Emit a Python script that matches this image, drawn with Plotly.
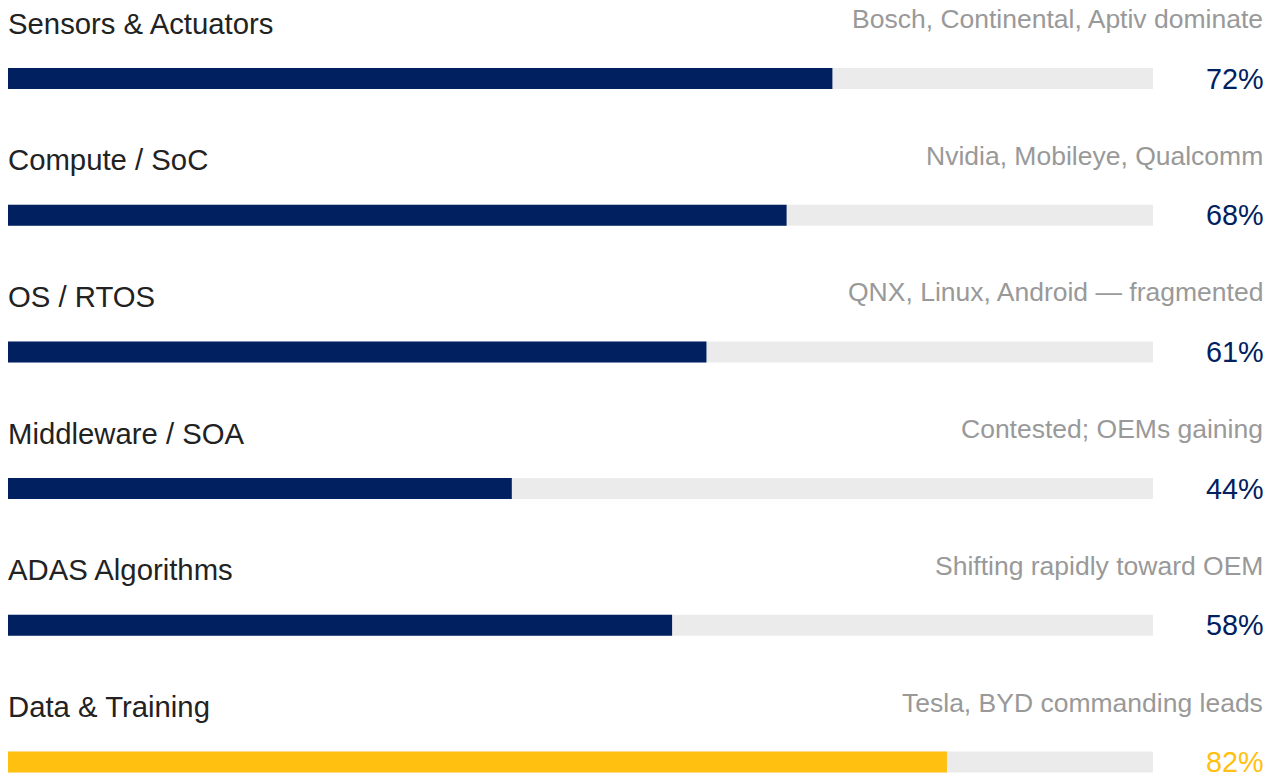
import plotly.graph_objects as go

categories = ["Sensors & Actuators", "Compute / SoC", "OS / RTOS", "Middleware / SOA",
              "ADAS Algorithms", "Data & Training"]
values = [72, 68, 61, 44, 58, 82]
notes = ["Bosch, Continental, Aptiv dominate", "Nvidia, Mobileye, Qualcomm",
         "QNX, Linux, Android \u2014 fragmented", "Contested; OEMs gaining",
         "Shifting rapidly toward OEM", "Tesla, BYD commanding leads"]
highlight = [False, False, False, False, False, True]

W, H = 1276, 777
NAVY = "#002060"
GOLD = "#FFC010"
TRACK = "#EBEBEB"

rows = list(range(len(categories)))
colors = [GOLD if h else NAVY for h in highlight]

px_per_row = 136.7
top_px = 78.5
y_top = -top_px / px_per_row
y_bot = (len(categories) - 1) + (H - (top_px + (len(categories) - 1) * px_per_row)) / px_per_row
bar_w = 21 / px_per_row

fig = go.Figure()
fig.add_trace(go.Bar(x=[100] * len(rows), y=rows, orientation="h", width=bar_w,
                     marker=dict(color=TRACK, line=dict(width=0)), hoverinfo="skip"))
fig.add_trace(go.Bar(x=values, y=rows, orientation="h", width=bar_w,
                     marker=dict(color=colors, line=dict(width=0)),
                     hovertext=categories, hoverinfo="text+x"))

FONT = "Liberation Sans, Arial, sans-serif"
label_off = 55.5 / px_per_row
note_off = 59.5 / px_per_row
for i, (c, v, n, col) in enumerate(zip(categories, values, notes, colors)):
    fig.add_annotation(x=6 / W, xref="paper", y=i - label_off, yref="y", text=c,
                       showarrow=False, xanchor="left", yanchor="middle",
                       font=dict(family=FONT, size=29.3, color="#222222"))
    fig.add_annotation(x=1264.5 / W, xref="paper", y=i - note_off, yref="y", text=n,
                       showarrow=False, xanchor="right", yanchor="middle",
                       font=dict(family=FONT, size=26.5, color="#999999"))
    fig.add_annotation(x=1265.5 / W, xref="paper", y=i, yref="y", text=f"{v}%",
                       showarrow=False, xanchor="right", yanchor="middle",
                       font=dict(family=FONT, size=28.8, color=col))

fig.update_layout(
    width=W, height=H, margin=dict(l=0, r=0, t=0, b=0),
    paper_bgcolor="white", plot_bgcolor="white",
    barmode="overlay", showlegend=False,
    xaxis=dict(domain=[8 / W, 1153 / W], range=[0, 100], visible=False, fixedrange=True),
    yaxis=dict(domain=[0, 1], range=[y_bot, y_top], visible=False, fixedrange=True),
)

fig.write_html("out.html", config={"displayModeBar": False})
